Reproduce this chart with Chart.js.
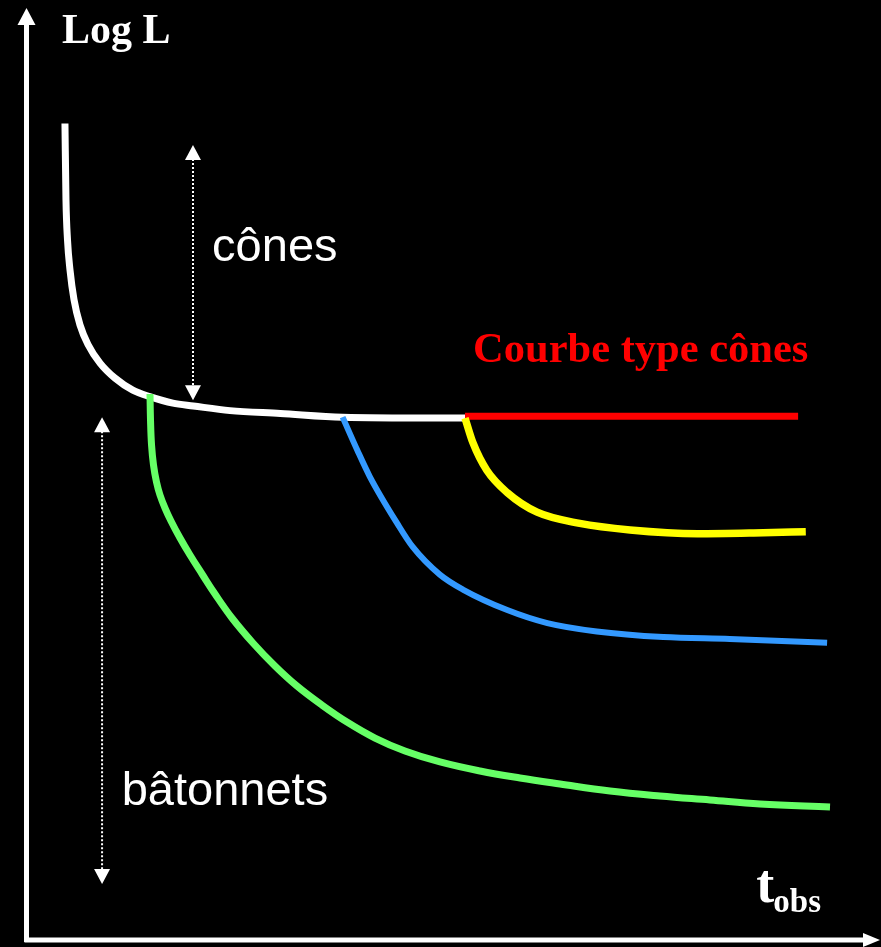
<!DOCTYPE html>
<html>
<head>
<meta charset="utf-8">
<script src="https://cdn.jsdelivr.net/npm/chart.js@4.4.1/dist/chart.umd.min.js"></script>
<style>
  html, body { margin: 0; padding: 0; background: #000; }
  #wrap { width: 881px; height: 947px; position: relative; }
</style>
</head>
<body>
<div id="wrap"><canvas id="c"></canvas></div>
<script>
// Dark adaptation: threshold (log L) versus observation time, in arbitrary units 0..100.
const whiteCurve = [
  {x: 4.45, y: 87.6}, {x: 4.57, y: 79.4}, {x: 4.75, y: 75.1}, {x: 5.04, y: 71.9},
  {x: 5.51, y: 68.7}, {x: 6.21, y: 66.0}, {x: 7.15, y: 63.9}, {x: 8.56, y: 61.9},
  {x: 10.3, y: 60.3}, {x: 12.4, y: 59.0}, {x: 14.4, y: 58.3}, {x: 17.1, y: 57.6},
  {x: 19.5, y: 57.3}, {x: 23.8, y: 56.8}, {x: 29.7, y: 56.5}, {x: 37.0, y: 56.1},
  {x: 51.35, y: 56.0}
];
const redCurve = [ {x: 51.35, y: 56.2}, {x: 90.4, y: 56.2} ];
const yellowCurve = [
  {x: 51.35, y: 56.0}, {x: 52.3, y: 53.3}, {x: 53.9, y: 50.4}, {x: 56.3, y: 48.0},
  {x: 59.8, y: 45.9}, {x: 64.8, y: 44.7}, {x: 70.7, y: 44.0}, {x: 78.6, y: 43.6},
  {x: 86.3, y: 43.7}, {x: 91.3, y: 43.8}
];
const blueCurve = [
  {x: 37.0, y: 56.1}, {x: 38.7, y: 52.6}, {x: 40.2, y: 49.7}, {x: 43.4, y: 44.7},
  {x: 45.2, y: 42.2}, {x: 48.4, y: 39.2}, {x: 51.1, y: 37.6}, {x: 56.3, y: 35.4},
  {x: 61.0, y: 34.0}, {x: 66.8, y: 33.1}, {x: 74.6, y: 32.5}, {x: 82.4, y: 32.3},
  {x: 93.8, y: 31.9}
];
const greenCurve = [
  {x: 14.42, y: 58.58}, {x: 14.48, y: 55.79}, {x: 14.60, y: 53.11}, {x: 14.83, y: 50.97},
  {x: 15.18, y: 49.14}, {x: 15.59, y: 47.75}, {x: 16.18, y: 46.35}, {x: 16.88, y: 44.96},
  {x: 17.94, y: 43.13}, {x: 19.11, y: 41.31}, {x: 20.52, y: 39.27}, {x: 22.04, y: 37.12},
  {x: 24.03, y: 34.55}, {x: 26.49, y: 31.87}, {x: 29.07, y: 29.40}, {x: 31.65, y: 27.25},
  {x: 34.58, y: 25.21}, {x: 37.51, y: 23.39}, {x: 40.80, y: 21.67}, {x: 44.31, y: 20.28},
  {x: 48.42, y: 19.10}, {x: 53.11, y: 18.13}, {x: 57.80, y: 17.38}, {x: 62.49, y: 16.74},
  {x: 68.35, y: 15.99}, {x: 74.21, y: 15.45}, {x: 80.07, y: 15.02}, {x: 85.93, y: 14.59},
  {x: 94.14, y: 14.27}
];

// Dotted double arrows marking the cone and rod ranges: [x, yTop, yBottom]
const coneRange = [19.46, 85.3, 57.9];
const rodRange = [8.8, 56.1, 6.0];

// Text labels: [text, x, baseline y, font, colour]
const labels = [
  ['Log L', 4.1, 96.2, 'bold 42px "Liberation Serif"', '#ffffff'],
  ['cônes', 21.7, 72.9, '47px "Liberation Sans"', '#ffffff'],
  ['bâtonnets', 11.1, 14.5, '47px "Liberation Sans"', '#ffffff'],
  ['Courbe type cônes', 52.3, 62.0, 'bold 42.5px "Liberation Serif"', '#ff0000']
];
const xAxisTitle = ['t', 'obs', 85.5, 4.1];

const background = {
  id: 'background',
  beforeDraw(chart) {
    const ctx = chart.ctx;
    ctx.save();
    ctx.fillStyle = '#000';
    ctx.fillRect(0, 0, chart.width, chart.height);
    ctx.restore();
  }
};

function arrowHead(ctx, tx, ty, dir, len, half) {
  // dir: 'up' | 'down' | 'right'
  ctx.beginPath();
  if (dir === 'up') {
    ctx.moveTo(tx, ty); ctx.lineTo(tx - half, ty + len); ctx.lineTo(tx + half, ty + len);
  } else if (dir === 'down') {
    ctx.moveTo(tx, ty); ctx.lineTo(tx - half, ty - len); ctx.lineTo(tx + half, ty - len);
  } else {
    ctx.moveTo(tx, ty); ctx.lineTo(tx - len, ty - half); ctx.lineTo(tx - len, ty + half);
  }
  ctx.closePath();
  ctx.fill();
}

const decorations = {
  id: 'decorations',
  afterDatasetsDraw(chart) {
    const ctx = chart.ctx;
    const xs = chart.scales.x, ys = chart.scales.y;
    const x0 = xs.getPixelForValue(0), x1 = xs.getPixelForValue(100);
    const y0 = ys.getPixelForValue(0), y1 = ys.getPixelForValue(100);
    ctx.save();
    ctx.fillStyle = '#fff';
    ctx.strokeStyle = '#fff';

    // axes with arrow heads
    ctx.lineWidth = 5;
    ctx.beginPath();
    ctx.moveTo(x0 - 0.5, y0 + 2); ctx.lineTo(x0 - 0.5, y1 + 14);
    ctx.moveTo(x0 - 2.5, y0); ctx.lineTo(x1 - 14, y0);
    ctx.stroke();
    arrowHead(ctx, x0 - 0.5, y1, 'up', 17, 9);
    arrowHead(ctx, x1, y0, 'right', 17, 7);

    // dotted range arrows
    [coneRange, rodRange].forEach(([vx, top, bottom]) => {
      const px = xs.getPixelForValue(vx);
      const pt = ys.getPixelForValue(top), pb = ys.getPixelForValue(bottom);
      ctx.lineWidth = 2;
      ctx.setLineDash([2, 2]);
      ctx.beginPath();
      ctx.moveTo(px, pt + 14); ctx.lineTo(px, pb - 14);
      ctx.stroke();
      ctx.setLineDash([]);
      arrowHead(ctx, px, pt, 'up', 15, 8);
      arrowHead(ctx, px, pb, 'down', 15, 8);
    });

    // labels
    ctx.textBaseline = 'alphabetic';
    ctx.textAlign = 'left';
    labels.forEach(([text, lx, ly, font, color]) => {
      ctx.font = font;
      ctx.fillStyle = color;
      ctx.fillText(text, xs.getPixelForValue(lx), ys.getPixelForValue(ly));
    });

    // x axis title with subscript
    const [main, sub, tx, ty] = xAxisTitle;
    const px = xs.getPixelForValue(tx), py = ys.getPixelForValue(ty);
    ctx.fillStyle = '#fff';
    ctx.font = 'bold 54px "Liberation Serif"';
    ctx.fillText(main, px, py);
    const w = ctx.measureText(main).width;
    ctx.font = 'bold 33px "Liberation Serif"';
    ctx.fillText(sub, px + w - 1, py + 10);
    ctx.restore();
  }
};

function line(data, color, width, smooth) {
  const ds = {
    data, borderColor: color, borderWidth: width, pointRadius: 0, fill: false,
    borderCapStyle: 'butt', borderJoinStyle: 'round'
  };
  if (smooth === 'spline') {
    ds.tension = 0.4;
  } else {
    ds.cubicInterpolationMode = 'monotone';
  }
  return ds;
}

new Chart(document.getElementById('c'), {
  type: 'line',
  data: {
    datasets: [
      line(greenCurve, '#66ff66', 7, 'spline'),
      line(blueCurve, '#3399ff', 6),
      line(yellowCurve, '#ffff00', 7.5),
      line(redCurve, '#ff0000', 7),
      line(whiteCurve, '#ffffff', 7)
    ]
  },
  options: {
    responsive: true,
    maintainAspectRatio: false,
    animation: false,
    layout: { padding: { left: 27, right: 1, top: 8, bottom: 7 } },
    scales: {
      x: { type: 'linear', min: 0, max: 100, display: false },
      y: { type: 'linear', min: 0, max: 100, display: false }
    },
    plugins: { legend: { display: false }, tooltip: { enabled: false } }
  },
  plugins: [background, decorations]
});
</script>
</body>
</html>
